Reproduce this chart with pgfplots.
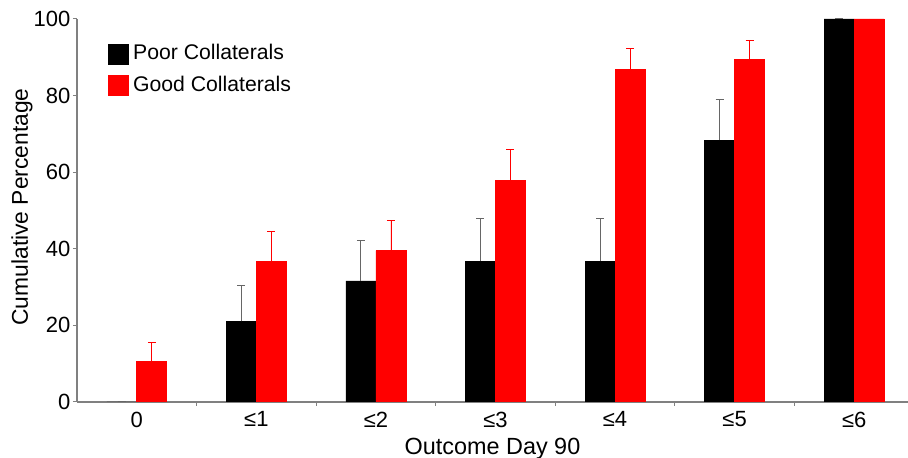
\documentclass[border=0pt]{standalone}
\usepackage{pgfplots}
\pgfplotsset{compat=1.18}
\usepackage{fontspec}
\setmainfont{Liberation Sans}
\begin{document}
\fontsize{11}{13}\selectfont
\begin{tikzpicture}
\begin{axis}[
  at={(0,0)}, anchor=south west,
  scale only axis, width=415.5pt, height=191.5pt,
  xmin=-0.5, xmax=6.45, ymin=0, ymax=100,
  axis x line*=bottom, axis y line*=left,
  axis line style={gray, line width=0.6pt},
  ybar=0pt, bar width=15pt,
  xtick={0,1,2,3,4,5,6},
  xticklabels={0,≤1,≤2,≤3,≤4,≤5,≤6},
  major x tick style={draw=none},
  minor xtick={0.5,1.5,2.5,3.5,4.5,5.5},
  minor x tick style={gray, line width=0.5pt},
  minor tick length=2pt,
  ytick={0,20,40,60,80,100},
  major y tick style={gray, line width=0.5pt},
  major tick length=2pt,
  tick align=outside,
  tick label style={font=\fontsize{11}{13}\selectfont},
  xticklabel style={yshift=1pt},
  yticklabel style={xshift=2.5pt},
  /pgf/number format/assume math mode=true,
  xlabel={Outcome Day 90},
  ylabel={Cumulative Percentage},
  xlabel style={font=\fontsize{11.7}{14}\selectfont, at={(axis description cs:0.5,0)}, anchor=center, yshift=-23.5pt},
  ylabel style={font=\fontsize{11.4}{14}\selectfont, at={(axis description cs:0,0.5)}, anchor=center, yshift=27.5pt, xshift=1.75pt},
  legend style={at={(0.030,0.955)}, anchor=north west, draw=none, fill=none,
    row sep=2.5pt, font=\fontsize{10.6}{12}\selectfont},
  legend cell align=left,
  legend image code/.code={\fill[#1] (0pt,-5pt) rectangle (10pt,5pt);},
  error bars/y dir=plus, error bars/y explicit,
]
\addplot[fill=black, draw=black,
  error bars/error bar style={gray!80!black, line width=0.5pt},
  error bars/error mark options={rotate=90, mark size=2pt, gray!80!black, line width=0.5pt}]
  coordinates {
  (0,0) +- (0,0)
  (1,21.05) +- (0,9.4)
  (2,31.6) +- (0,10.6)
  (3,36.8) +- (0,11.0)
  (4,36.8) +- (0,11.0)
  (5,68.4) +- (0,10.6)
  (6,100) +- (0,0)
};
\addlegendentry{Poor Collaterals}
\addplot[fill=red, draw=red,
  error bars/error bar style={red, line width=0.4pt},
  error bars/error mark options={rotate=90, mark size=2pt, red, line width=0.4pt}]
  coordinates {
  (0,10.5) +- (0,5.0)
  (1,36.8) +- (0,7.8)
  (2,39.5) +- (0,7.9)
  (3,57.9) +- (0,8.0)
  (4,86.8) +- (0,5.5)
  (5,89.5) +- (0,5.0)
  (6,100) +- (0,0)
};
\addlegendentry{Good Collaterals}
\end{axis}
\pgfresetboundingbox
\path (-38.5pt,-28pt) rectangle (415.5pt,201pt);
\end{tikzpicture}
\end{document}
